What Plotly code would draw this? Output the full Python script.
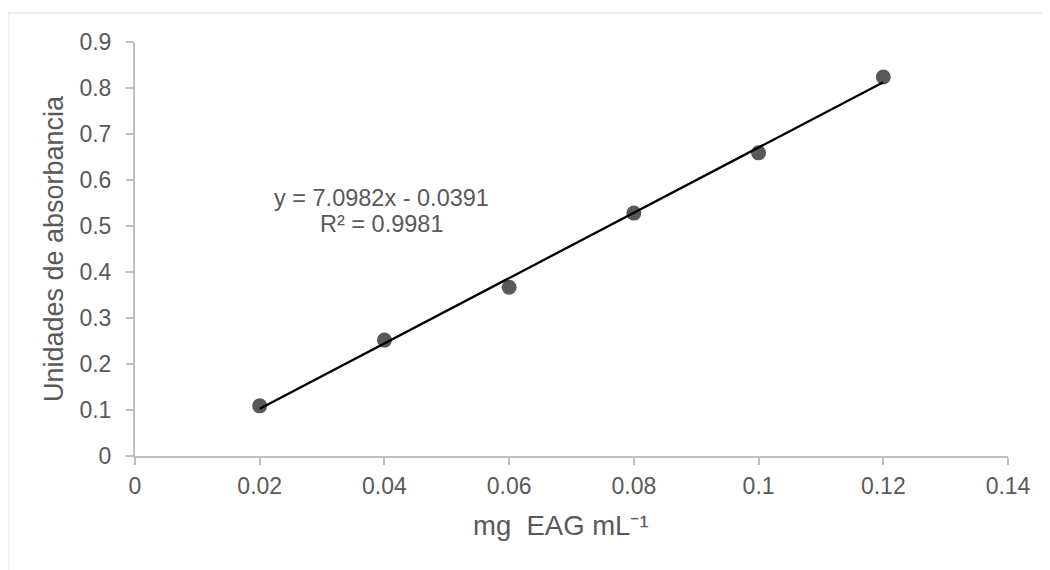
import plotly.graph_objects as go
import numpy as np

concentration = [0.02, 0.04, 0.06, 0.08, 0.10, 0.12]
absorbance = [0.109, 0.252, 0.367, 0.528, 0.659, 0.824]
slope = 7.0982
intercept = -0.0391
r2 = 0.9981
x_ticks = [0, 0.02, 0.04, 0.06, 0.08, 0.1, 0.12, 0.14]
x_ticklabels = ["0", "0.02", "0.04", "0.06", "0.08", "0.1", "0.12", "0.14"]
y_ticks = [0, 0.1, 0.2, 0.3, 0.4, 0.5, 0.6, 0.7, 0.8, 0.9]
y_ticklabels = ["0", "0.1", "0.2", "0.3", "0.4", "0.5", "0.6", "0.7", "0.8", "0.9"]
x_title = "mg  EAG mL⁻¹"
y_title = "Unidades de absorbancia"

FONT = "Liberation Sans, Arial, sans-serif"
GREY = "#595959"
AX = "#bfbfbf"

fit_x = np.array([min(concentration), max(concentration)])
fit_y = slope * fit_x + intercept

fig = go.Figure()
fig.add_trace(go.Scatter(x=concentration, y=absorbance, mode="markers",
                         marker=dict(size=15, color=GREY), showlegend=False))
fig.add_trace(go.Scatter(x=fit_x, y=fit_y, mode="lines",
                         line=dict(color="black", width=2.3), showlegend=False))

fig.add_annotation(x=0.0395, y=0.561, xref="x", yref="y",
                   text=f"y = {slope}x - {abs(intercept)}",
                   showarrow=False, font=dict(family=FONT, size=23.5, color=GREY))
fig.add_annotation(x=0.0395, y=0.504, xref="x", yref="y",
                   text=f"R² = {r2}",
                   showarrow=False, font=dict(family=FONT, size=23.5, color=GREY))

# x-axis title (slightly left of plot centre, as in the reference)
fig.add_annotation(x=0.488, y=-0.167, xref="paper", yref="paper",
                   text=x_title, showarrow=False, xanchor="center", yanchor="middle",
                   font=dict(family=FONT, size=27.5, color=GREY))

fig.add_shape(type="rect", xref="paper", yref="paper",
              x0=-0.1455, x1=1.2, y0=-0.5, y1=1.070,
              line=dict(color="#d9d9d9", width=1), layer="below")

fig.update_layout(
    width=1050, height=570,
    margin=dict(l=127, r=50, t=34, b=122),
    paper_bgcolor="white", plot_bgcolor="white",
    font=dict(family=FONT, color=GREY),
    xaxis=dict(range=[0, 0.14], tickvals=x_ticks, ticktext=x_ticklabels,
               showgrid=False, zeroline=False, showline=True, linecolor=AX, linewidth=2,
               ticks="outside", ticklen=7, tickcolor=AX, tickwidth=2,
               tickfont=dict(size=23, color=GREY), ticklabelstandoff=1),
    yaxis=dict(range=[0, 0.9], tickvals=y_ticks, ticktext=y_ticklabels,
               showgrid=False, zeroline=False, showline=True, linecolor=AX, linewidth=2,
               ticks="outside", ticklen=7, tickcolor=AX, tickwidth=2,
               tickfont=dict(size=23, color=GREY), ticklabelstandoff=10,
               title=dict(text=y_title, font=dict(size=27, color=GREY), standoff=8)),
)

fig.write_html("out.html")
